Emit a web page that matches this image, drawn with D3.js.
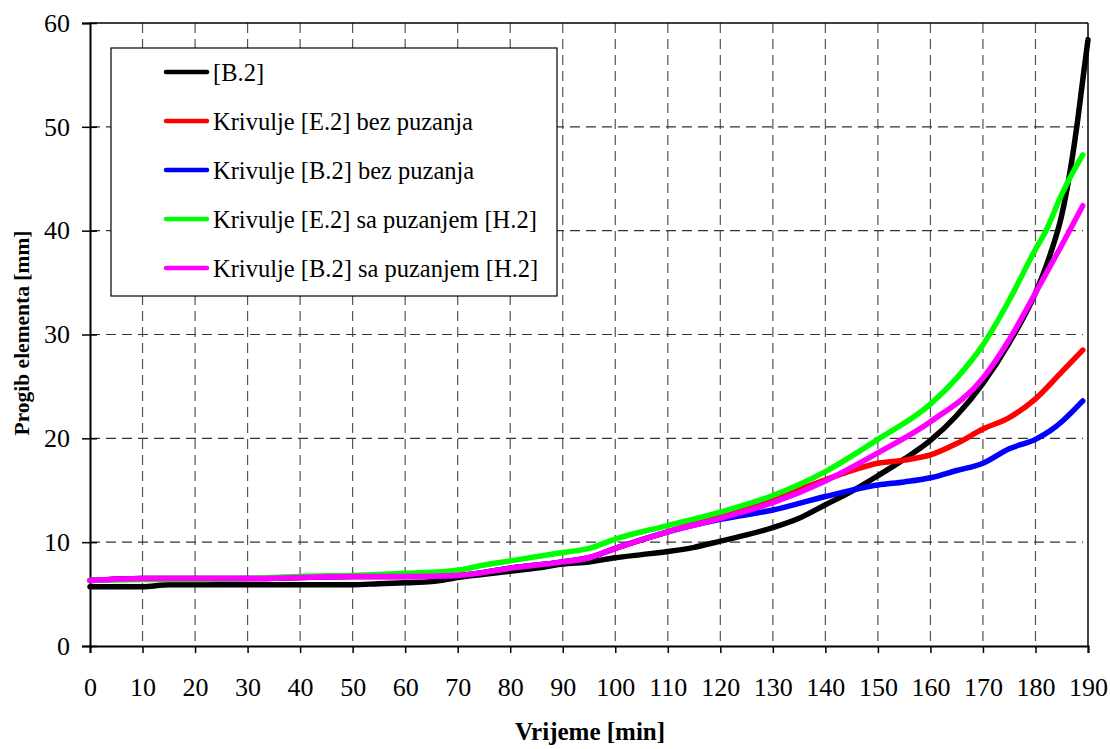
<!DOCTYPE html>
<html><head><meta charset="utf-8">
<script src="https://cdn.jsdelivr.net/npm/d3@7"></script>
<style>body{margin:0;background:#fff}svg{display:block}</style>
</head><body>
<svg id="c" width="1110" height="749"></svg>
<script>
// ---- data ----
const xTicks = [0,10,20,30,40,50,60,70,80,90,100,110,120,130,140,150,160,170,180,190];
const yTicks = [0,10,20,30,40,50,60];
const seriesNames = ["[B.2]","Krivulje [E.2] bez puzanja","Krivulje [B.2] bez puzanja","Krivulje [E.2] sa puzanjem [H.2]","Krivulje [B.2] sa puzanjem [H.2]"];
const seriesColors = ["#000000","#ff0000","#0000ff","#00ff00","#ff00ff"];

const blackX = [0,10,15,20,30,40,50,55,60,65,70,75,80,85,90,95,100,105,110,115,120,125,130,135,140,145,150,155,160,165,170,175,180,183,185,187,188,189,190];
const blackY = [5.7,5.7,5.9,5.9,5.9,5.9,5.9,6.0,6.1,6.2,6.6,6.9,7.2,7.5,7.9,8.1,8.5,8.8,9.1,9.5,10.1,10.7,11.4,12.3,13.6,14.9,16.4,18.0,19.8,22.2,25.3,29.2,34.0,38.0,41.5,47.0,50.5,54.5,58.4];

const redX = [0,10,20,30,40,50,60,70,80,90,95,100,110,120,125,130,135,140,145,150,155,160,165,170,175,180,185,189];
const redY = [6.3,6.5,6.5,6.5,6.6,6.7,6.7,6.8,7.5,8.1,8.5,9.4,11.0,12.6,13.4,14.3,15.1,16.0,16.9,17.6,17.9,18.4,19.5,20.9,22.0,23.8,26.4,28.5];

const blueX = [0,10,20,30,40,50,60,70,80,90,95,100,110,120,130,140,150,155,160,165,170,175,180,183,185,189];
const blueY = [6.3,6.5,6.5,6.5,6.6,6.7,6.7,6.8,7.5,8.1,8.5,9.4,11.0,12.2,13.1,14.4,15.5,15.8,16.2,16.9,17.6,19.0,19.9,20.8,21.6,23.6];

const greenX = [0,10,20,30,35,40,50,60,70,75,80,90,95,100,110,120,130,140,150,160,165,170,175,180,182,185,187,189];
const greenY = [6.3,6.4,6.4,6.5,6.6,6.7,6.8,7.0,7.3,7.8,8.2,9.0,9.4,10.3,11.6,12.9,14.5,16.8,19.9,23.3,25.8,29.0,33.3,38.2,40.0,43.5,45.5,47.3];

const magentaX = [0,10,20,30,40,50,60,70,80,90,95,100,110,120,130,140,150,160,170,175,180,185,189];
const magentaY = [6.3,6.5,6.5,6.5,6.6,6.7,6.7,6.8,7.5,8.1,8.5,9.4,11.0,12.3,13.8,15.9,18.6,21.6,25.8,29.5,34.0,38.6,42.4];

const seriesX = [blackX, redX, blueX, greenX, magentaX];
const seriesY = [blackY, redY, blueY, greenY, magentaY];

// ---- layout ----
const L = 90, T = 23, R = 1088, B = 646;
const svg = d3.select("#c");
const x = d3.scaleLinear().domain([0,190]).range([L,R]);
const y = d3.scaleLinear().domain([0,60]).range([B,T]);
const font = "'Liberation Serif','Times New Roman',serif";

// grid
const g = svg.append("g");
g.selectAll("line.vg").data(xTicks.filter(d=>d>0 && d<190)).enter().append("line")
  .attr("x1",d=>x(d)).attr("x2",d=>x(d)).attr("y1",T).attr("y2",B)
  .attr("stroke","#555").attr("stroke-width",1.2).attr("stroke-dasharray","10,6");
g.selectAll("line.hg").data(yTicks.filter(d=>d>0 && d<60)).enter().append("line")
  .attr("x1",L).attr("x2",R-5).attr("y1",d=>y(d)).attr("y2",d=>y(d))
  .attr("stroke","#333").attr("stroke-width",1.2).attr("stroke-dasharray","10,6");

// frame top/right
svg.append("line").attr("x1",L).attr("x2",R).attr("y1",T).attr("y2",T).attr("stroke","#000").attr("stroke-width",1.5);
svg.append("line").attr("x1",R).attr("x2",R).attr("y1",T).attr("y2",B).attr("stroke","#000").attr("stroke-width",1.5);

// axes
const xAxis = d3.axisBottom(x).tickValues(xTicks).tickSize(7).tickPadding(0).tickFormat(d3.format("d"));
const gx = svg.append("g").attr("transform",`translate(0,${B})`).call(xAxis);
gx.select(".domain").attr("stroke-width",2);
gx.selectAll(".tick line").attr("stroke-width",1.5);
gx.selectAll("text").attr("font-family",font).attr("font-size",26).attr("fill","#000")
  .attr("y",41).attr("dy","0.35em");

const yAxis = d3.axisLeft(y).tickValues(yTicks).tickSize(8).tickPadding(12);
const gy = svg.append("g").attr("transform",`translate(${L},0)`).call(yAxis);
gy.select(".domain").attr("stroke-width",2);
gy.selectAll(".tick line").attr("x2",-8).attr("x1",7).attr("stroke-width",1.5);
gy.selectAll("text").attr("font-family",font).attr("font-size",26).attr("fill","#000");

// lines
const line = d3.line().x(d=>x(d[0])).y(d=>y(d[1])).curve(d3.curveMonotoneX);
seriesX.forEach((xs,i)=>{
  const pts = xs.map((v,j)=>[v, seriesY[i][j]]);
  svg.append("path").datum(pts).attr("d",line).attr("fill","none")
    .attr("stroke",seriesColors[i]).attr("stroke-width",5.5).attr("stroke-linejoin","round").attr("stroke-linecap","round");
});

// legend
const lg = svg.append("g");
lg.append("rect").attr("x",111).attr("y",48).attr("width",446).attr("height",248)
  .attr("fill","#fff").attr("stroke","#000").attr("stroke-width",1.2);
const rowY = d3.scalePoint().domain(d3.range(seriesNames.length)).range([72,268]);
seriesNames.forEach((n,i)=>{
  lg.append("line").attr("x1",166).attr("x2",207).attr("y1",rowY(i)).attr("y2",rowY(i))
    .attr("stroke",seriesColors[i]).attr("stroke-width",4.5).attr("stroke-linecap","round");
  lg.append("text").attr("x",213).attr("y",rowY(i)).attr("dy","0.35em")
    .attr("font-family",font).attr("font-size",24.5).text(n);
});

// titles
svg.append("text").attr("x",590).attr("y",740).attr("text-anchor","middle")
  .attr("font-family",font).attr("font-weight","bold").attr("font-size",25).text("Vrijeme [min]");
svg.append("text").attr("transform","translate(29,333) rotate(-90)").attr("text-anchor","middle")
  .attr("font-family",font).attr("font-weight","bold").attr("font-size",21.5).text("Progib elementa [mm]");
</script>
</body></html>
